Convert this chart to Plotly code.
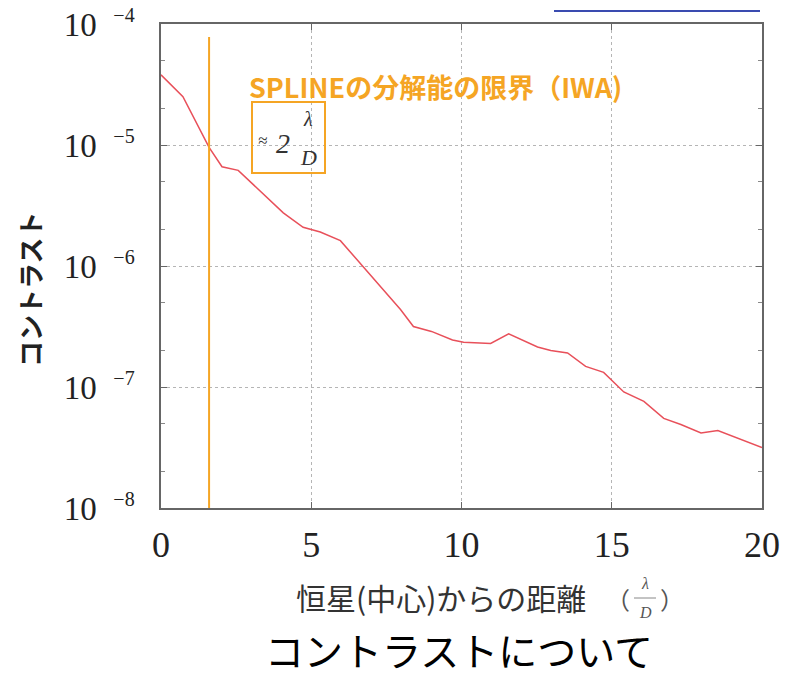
import plotly.graph_objects as go

# distance from star (lambda/D)
distance = [0, 0.73, 1.6, 2.03, 2.57, 4.07, 4.73, 5.3, 5.97, 6.73, 7.97, 8.4, 9.0, 9.7,
            10.07, 10.97, 11.57, 12.53, 12.97, 13.53, 14.13, 14.73, 15.4, 16.07, 16.73,
            17.3, 17.97, 18.53, 19.07, 20.0]
# contrast
contrast = [3.8e-5, 2.51e-5, 9.55e-6, 6.61e-6, 6.17e-6, 2.75e-6, 2.09e-6, 1.91e-6, 1.62e-6,
            9.77e-7, 4.37e-7, 3.16e-7, 2.88e-7, 2.45e-7, 2.34e-7, 2.29e-7, 2.75e-7, 2.14e-7,
            2.0e-7, 1.91e-7, 1.48e-7, 1.32e-7, 9.1e-8, 7.6e-8, 5.5e-8, 4.9e-8, 4.17e-8,
            4.37e-8, 3.89e-8, 3.16e-8]
# inner working angle marker
iwa_x = [1.6, 1.6]
iwa_y = [1e-8, 7.8e-5]

x_ticks = [0, 5, 10, 15, 20]
y_ticks = [1e-8, 1e-7, 1e-6, 1e-5, 1e-4]
y_exps = ["−8", "−7", "−6", "−5", "−4"]

W, H = 785, 678
L, R, T, B = 161, 762, 24, 508


def px(x):
    return (x - L) / (R - L)


def py(y):
    return (B - y) / (B - T)


fig = go.Figure()
fig.add_trace(go.Scatter(x=distance, y=contrast, mode="lines",
                         line=dict(color="#e8505a", width=1.5), showlegend=False))
fig.add_trace(go.Scatter(x=iwa_x, y=iwa_y, mode="lines",
                         line=dict(color="#f5a524", width=2), showlegend=False))

serif = "Liberation Serif, Times New Roman, serif"
jp = "Noto Sans CJK JP, sans-serif"

fig.update_layout(
    width=W, height=H,
    margin=dict(l=L, r=W - R, t=T, b=H - B, autoexpand=False),
    paper_bgcolor="white", plot_bgcolor="white",
    showlegend=False,
    xaxis=dict(range=[0, 20], tickvals=x_ticks, ticktext=[str(v) for v in x_ticks],
               tickfont=dict(family=serif, size=36, color="#222"),
               ticks="inside", ticklen=6, tickcolor="#666", automargin=False,
               showline=True, linecolor="#666", linewidth=1.5, mirror="ticks",
               showgrid=True, gridcolor="#b5b5b5", griddash="dot", gridwidth=1,
               zeroline=False, ticklabelstandoff=4),
    yaxis=dict(type="log", range=[-8, -4], tickvals=y_ticks,
               ticktext=[f"10  <sup><span style='font-size:20px'>{e}</span></sup>" for e in y_exps],
               tickfont=dict(family=serif, size=33, color="#222"),
               ticks="inside", ticklen=6, tickcolor="#666", automargin=False,
               minor=dict(ticks="inside", ticklen=4, dtick="D2", tickcolor="#888", showgrid=False),
               showline=True, linecolor="#666", linewidth=1.5, mirror="ticks",
               showgrid=True, gridcolor="#b5b5b5", griddash="dot", gridwidth=1,
               zeroline=False, ticklabelstandoff=18),
)

ann = []


def add(text, x, y, size, family=jp, color="#222", angle=0):
    ann.append(dict(text=text, x=px(x), y=py(y), xref="paper", yref="paper",
                    showarrow=False, xanchor="center", yanchor="middle",
                    font=dict(family=family, size=size, color=color), textangle=angle))


add("<b>SPLINEの分解能の限界（IWA)</b>", 435, 87, 27, color="#f5a524")
add("<i>≈</i>", 262, 140, 17, family=serif, color="#333")
add("<i>2</i>", 283, 144, 28, family=serif, color="#333")
add("<i>λ</i>", 308, 119, 20, family=serif, color="#333")
add("<i>D</i>", 308, 157, 22, family=serif, color="#333")
add("<b>コントラスト</b>", 29, 290, 26, angle=-90)
add("恒星(中心)からの距離", 441, 597, 30, color="#333")
add("（", 618, 598, 24, color="#555")
add("<i>λ</i>", 645, 583, 16, family=serif, color="#555")
add("<i>D</i>", 645, 612, 16, family=serif, color="#555")
add("）", 672, 598, 24, color="#555")
add("コントラストについて", 459, 649, 39, color="#000")
fig.update_layout(annotations=ann)

fig.add_shape(type="rect", xref="paper", yref="paper",
              x0=px(252), x1=px(325), y0=py(173), y1=py(102),
              line=dict(color="#f5a524", width=2))
fig.add_shape(type="line", xref="paper", yref="paper",
              x0=px(634), x1=px(656), y0=py(598), y1=py(598),
              line=dict(color="#888", width=1))
fig.add_shape(type="line", xref="paper", yref="paper",
              x0=px(554), x1=px(760), y0=py(11), y1=py(11),
              line=dict(color="#3a4bb0", width=2))

fig.write_html("out.html", config={"displayModeBar": False},
               post_script="document.body.style.margin='0';document.body.style.overflow='hidden';")
